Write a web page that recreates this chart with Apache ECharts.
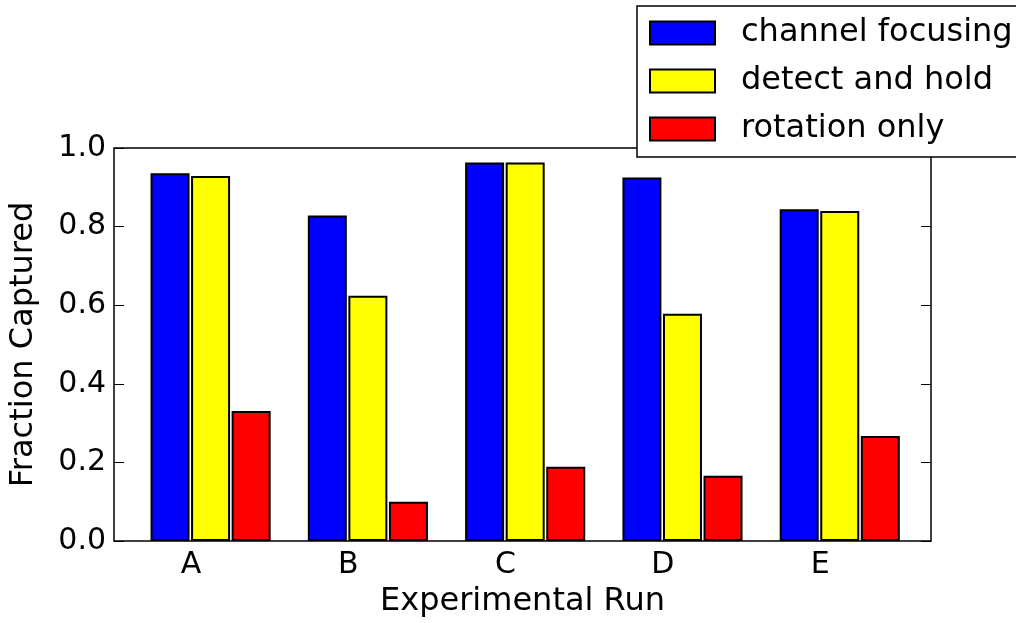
<!DOCTYPE html>
<html>
<head>
<meta charset="utf-8">
<script src="https://cdn.jsdelivr.net/npm/echarts@6/dist/echarts.min.js"></script>
<style>
  html, body { margin: 0; padding: 0; background: #fff; }
  #chart { width: 1016px; height: 623px; }
</style>
</head>
<body>
<div id="chart"></div>
<script>
// Experimental runs and the fraction captured under each strategy
const runs = ['A', 'B', 'C', 'D', 'E'];
const channelFocusing = [0.936, 0.828, 0.963, 0.925, 0.844];
const detectAndHold = [0.929, 0.624, 0.963, 0.578, 0.840];
const rotationOnly = [0.331, 0.100, 0.189, 0.166, 0.267];

const FONT = '"DejaVu Sans", sans-serif';
const runIndex = runs.map((_, i) => i);
// each group of three bars starts at its run's tick and spans 0.75 of a run
const groupCentre = 0.125;

function barSeries(name, values, color) {
  return {
    name: name,
    type: 'bar',
    barWidth: 39,
    barGap: '4%',
    data: values.map((v, i) => [runIndex[i] + groupCentre, v]),
    itemStyle: { color: color, borderColor: '#000', borderWidth: 2 }
  };
}

const chart = echarts.init(document.getElementById('chart'), null, { renderer: 'canvas' });

chart.setOption({
  animation: false,
  backgroundColor: '#fff',
  textStyle: { fontFamily: FONT },
  grid: {
    left: 113, right: 85, top: 148, bottom: 82,
    show: true, borderColor: '#000', borderWidth: 1.5, backgroundColor: 'transparent'
  },
  legend: {
    orient: 'vertical',
    left: 637, top: 6,
    padding: [11, 60, 12, 12],
    itemWidth: 65, itemHeight: 23, itemGap: 16,
    backgroundColor: '#fff',
    borderColor: '#000', borderWidth: 1.5, borderRadius: 0,
    icon: 'rect',
    textStyle: { fontFamily: FONT, fontSize: 32, color: '#000', padding: [0, 0, 0, 21] },
    data: ['channel focusing', 'detect and hold', 'rotation only']
  },
  xAxis: {
    type: 'value',
    min: -0.489, max: 4.705,
    name: 'Experimental Run',
    nameLocation: 'middle',
    nameGap: 45,
    nameTextStyle: { fontFamily: FONT, fontSize: 32, color: '#000' },
    axisLine: { show: false, onZero: false },
    axisTick: { show: false },
    splitLine: { show: false },
    axisLabel: {
      customValues: runIndex,
      formatter: (v) => runs[Math.round(v)],
      fontFamily: FONT, fontSize: 30, color: '#000', margin: 9
    }
  },
  yAxis: [
    {
      type: 'value',
      position: 'left',
      min: 0, max: 1, interval: 0.2,
      name: 'Fraction Captured',
      nameLocation: 'middle',
      nameGap: 74,
      nameTextStyle: { fontFamily: FONT, fontSize: 32, color: '#000' },
      axisLine: { show: false, onZero: false },
      splitLine: { show: false },
      axisTick: { show: true, inside: true, length: 10, lineStyle: { color: '#000', width: 1 } },
      axisLabel: {
        formatter: (v) => v.toFixed(1),
        fontFamily: FONT, fontSize: 30, color: '#000', margin: 8
      }
    },
    {
      type: 'value',
      position: 'right',
      min: 0, max: 1, interval: 0.2,
      axisLine: { show: false, onZero: false },
      splitLine: { show: false },
      axisLabel: { show: false },
      axisTick: { show: true, inside: true, length: 10, lineStyle: { color: '#000', width: 1 } }
    }
  ],
  series: [
    barSeries('channel focusing', channelFocusing, '#0000ff'),
    barSeries('detect and hold', detectAndHold, '#ffff00'),
    barSeries('rotation only', rotationOnly, '#ff0000')
  ]
});
</script>
</body>
</html>
